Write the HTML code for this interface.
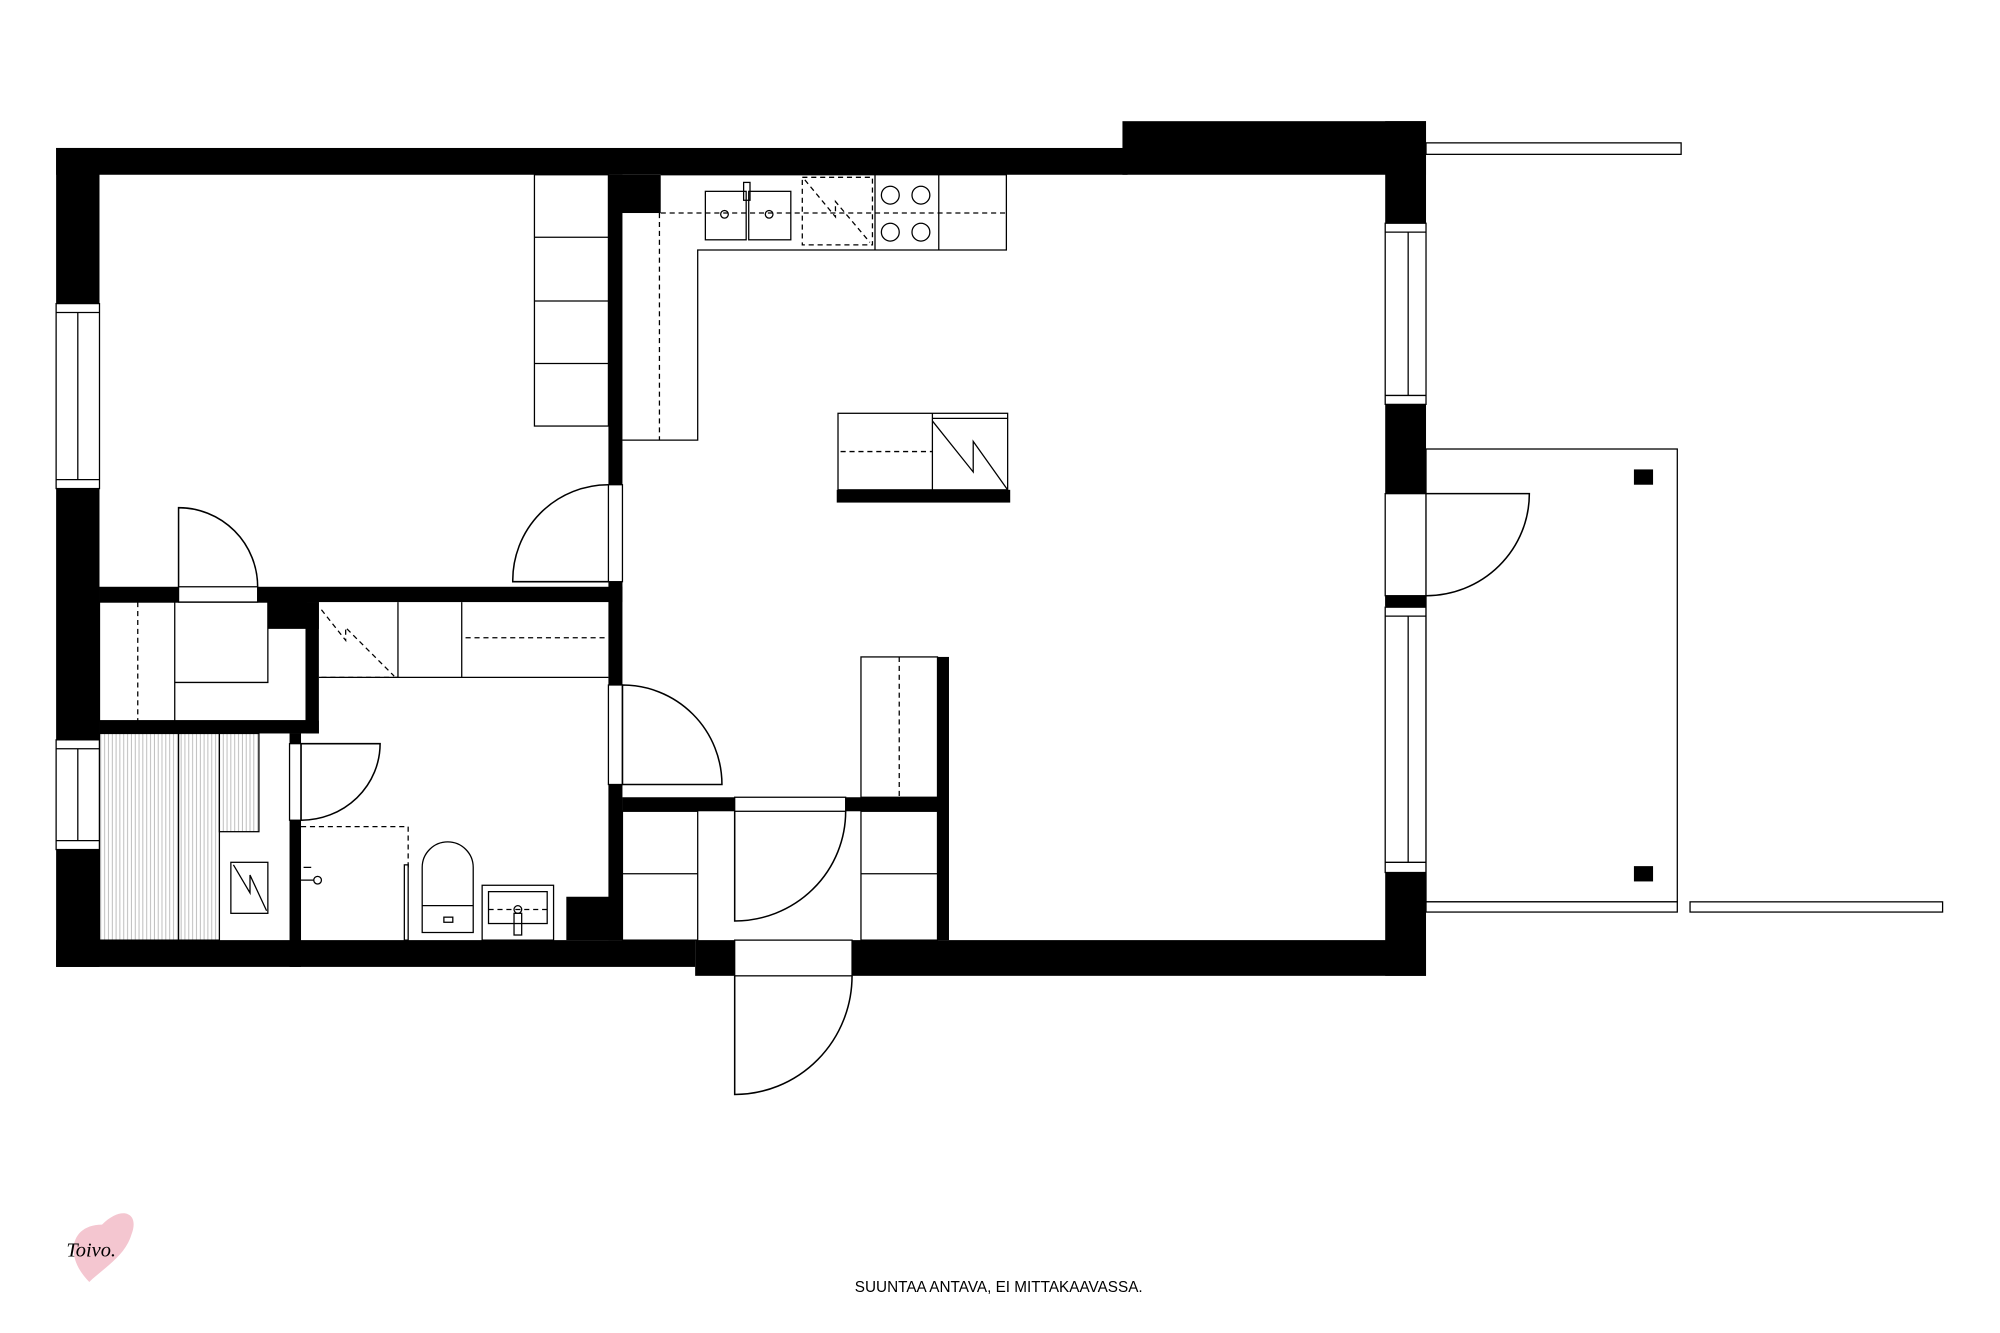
<!DOCTYPE html>
<html><head><meta charset="utf-8"><style>
html,body{margin:0;padding:0;background:#fff;width:2000px;height:1333px;overflow:hidden}
svg{display:block}
</style></head><body>
<svg width="2000" height="1333" viewBox="0 0 1568 1045" preserveAspectRatio="none" xmlns="http://www.w3.org/2000/svg">
<defs>
<pattern id="slat" width="3" height="10" patternUnits="userSpaceOnUse"><rect width="3" height="10" fill="#fff"/><line x1="1" y1="0" x2="1" y2="10" stroke="#aaa" stroke-width="0.6"/></pattern>
</defs>
<g fill="#000">
<rect x="44" y="116" width="840" height="21"/>
<rect x="880" y="95" width="238" height="42"/>
<rect x="44" y="116" width="34" height="642"/>
<rect x="1086" y="95" width="32" height="670"/>
<rect x="44" y="737" width="501" height="21"/>
<rect x="545" y="737" width="573" height="28"/>
<rect x="477" y="137" width="41" height="30"/>
<rect x="477" y="137" width="11" height="600"/>
<rect x="78" y="460" width="410" height="12"/>
<rect x="240" y="472" width="10" height="103"/>
<rect x="210" y="472" width="40" height="21"/>
<rect x="78" y="565" width="172" height="10"/>
<rect x="227" y="575" width="9" height="183"/>
<rect x="444" y="703" width="44" height="34"/>
<rect x="488" y="625" width="255" height="11"/>
<rect x="735" y="515" width="9" height="222"/>
<rect x="656" y="384" width="136" height="10"/>
</g>
<g fill="#fff" stroke="#000" stroke-width="1">
<rect x="44" y="238" width="34" height="145"/><line x1="44" y1="245" x2="78" y2="245"/><line x1="44" y1="376" x2="78" y2="376"/><line x1="61" y1="245" x2="61" y2="376"/>
<rect x="44" y="580" width="34" height="86"/><line x1="44" y1="587" x2="78" y2="587"/><line x1="44" y1="659" x2="78" y2="659"/><line x1="61" y1="587" x2="61" y2="659"/>
<rect x="1086" y="175" width="32" height="142"/><line x1="1086" y1="182" x2="1118" y2="182"/><line x1="1086" y1="310" x2="1118" y2="310"/><line x1="1104" y1="182" x2="1104" y2="310"/>
<rect x="1086" y="476" width="32" height="208"/><line x1="1086" y1="483" x2="1118" y2="483"/><line x1="1086" y1="676" x2="1118" y2="676"/><line x1="1104" y1="483" x2="1104" y2="676"/>
<rect x="1086" y="387" width="32" height="80"/>
<rect x="1118" y="112" width="200" height="9"/>
<rect x="1118" y="352" width="197" height="355"/>
<rect x="1118" y="707" width="197" height="8"/>
<rect x="1325" y="707" width="198" height="8"/>
<rect x="140" y="460" width="62" height="12"/>
<rect x="477" y="380" width="11" height="76"/>
<rect x="477" y="537" width="11" height="78"/>
<rect x="227" y="583" width="9" height="60"/>
<rect x="576" y="625" width="87" height="11"/>
<rect x="576" y="737" width="92" height="28"/>
</g>
<g fill="none" stroke="#000" stroke-width="1.2">
<path d="M140 460 V398 A62 62 0 0 1 202 460"/>
<path d="M477 456 H402 A75 75 0 0 1 477 380"/>
<path d="M488 615 V537 A78 78 0 0 1 566 615 Z"/>
<path d="M236 643 V583 H298 A62 60 0 0 1 236 643"/>
<path d="M576 636 V722 A87 86 0 0 0 663 636"/>
<path d="M576 765 V858 A92 93 0 0 0 668 765"/>
<path d="M1118 387 H1199 A81 80 0 0 1 1118 467"/>
</g>
<g fill="#000"><rect x="1086" y="467" width="32" height="8"/><rect x="1281" y="368" width="15" height="12"/><rect x="1281" y="679" width="15" height="12"/></g>
<g fill="none" stroke="#000" stroke-width="1">
<rect x="419" y="137" width="58" height="197"/>
<line x1="419" y1="186" x2="477" y2="186"/><line x1="419" y1="236" x2="477" y2="236"/><line x1="419" y1="285" x2="477" y2="285"/>
<path d="M518 137 H789 V196 H547 V345 H488"/>
<line x1="686" y1="137" x2="686" y2="196"/><line x1="736" y1="137" x2="736" y2="196"/>
<rect x="553" y="150" width="32" height="38"/><rect x="587" y="150" width="33" height="38"/>
<rect x="583" y="143" width="5" height="14"/>
<circle cx="568" cy="168" r="3"/><circle cx="603" cy="168" r="3"/>
<circle cx="698" cy="153" r="7"/><circle cx="722" cy="153" r="7"/><circle cx="698" cy="182" r="7"/><circle cx="722" cy="182" r="7"/>
<rect x="657" y="324" width="133" height="60"/><line x1="731" y1="324" x2="731" y2="384"/><line x1="731" y1="328" x2="790" y2="328"/>
<path d="M731 330 L763 370 V346 L790 384"/>
<rect x="78" y="472" width="162" height="93"/>
<path d="M137 472 V565 M137 535 H210 V472"/>
<path d="M250 531 H477 M312 472 V531 M362 472 V531"/>
<rect x="78" y="575" width="94" height="162" fill="url(#slat)"/>
<line x1="140" y1="575" x2="140" y2="737"/>
<rect x="172" y="575" width="31" height="77" fill="url(#slat)"/>
<rect x="181" y="676" width="29" height="40"/><path d="M183 678 L196 700 V686 L209 714"/>
<path d="M331 731 V680 A20 20 0 0 1 371 680 V731 Z M331 710 H371"/><rect x="348" y="719" width="7" height="4"/>
<rect x="378" y="694" width="56" height="43"/><rect x="383" y="699" width="46" height="25"/>
<rect x="403" y="716" width="6" height="17"/><circle cx="406" cy="713" r="3"/>
<rect x="317" y="678" width="3" height="59"/>
<rect x="488" y="636" width="59" height="101"/><line x1="488" y1="685" x2="547" y2="685"/>
<rect x="675" y="636" width="60" height="101"/><line x1="675" y1="685" x2="735" y2="685"/>
<rect x="675" y="515" width="60" height="110"/>
<path d="M238 680 H244 M236 690 H246"/><circle cx="249" cy="690" r="3"/>
</g>
<g fill="none" stroke="#000" stroke-width="1" stroke-dasharray="4,3">
<line x1="518" y1="167" x2="789" y2="167"/>
<line x1="517" y1="167" x2="517" y2="345"/>
<rect x="629" y="139" width="55" height="53"/>
<path d="M631 141 L655 170 V158 L682 190"/>
<line x1="659" y1="354" x2="731" y2="354"/>
<line x1="108" y1="472" x2="108" y2="565"/>
<path d="M252 478 L271 502 V492 L309 530"/>
<line x1="252" y1="531" x2="312" y2="531"/>
<line x1="365" y1="500" x2="477" y2="500"/>
<path d="M236 648 H320 V680"/>
<line x1="383" y1="713" x2="429" y2="713"/>
<line x1="705" y1="515" x2="705" y2="625"/>
</g>
<text x="783" y="1013" font-family="Liberation Sans, sans-serif" font-size="12" text-anchor="middle">SUUNTAA ANTAVA, EI MITTAKAAVASSA.</text>
<path d="M70 1005 C50 985 55 960 80 960 C95 945 110 950 103 968 C98 985 80 995 70 1005Z" fill="#f4c6d0"/>
<text x="52" y="985" font-family="Liberation Serif, serif" font-style="italic" font-size="16">Toivo.</text>
</svg>
</body></html>
